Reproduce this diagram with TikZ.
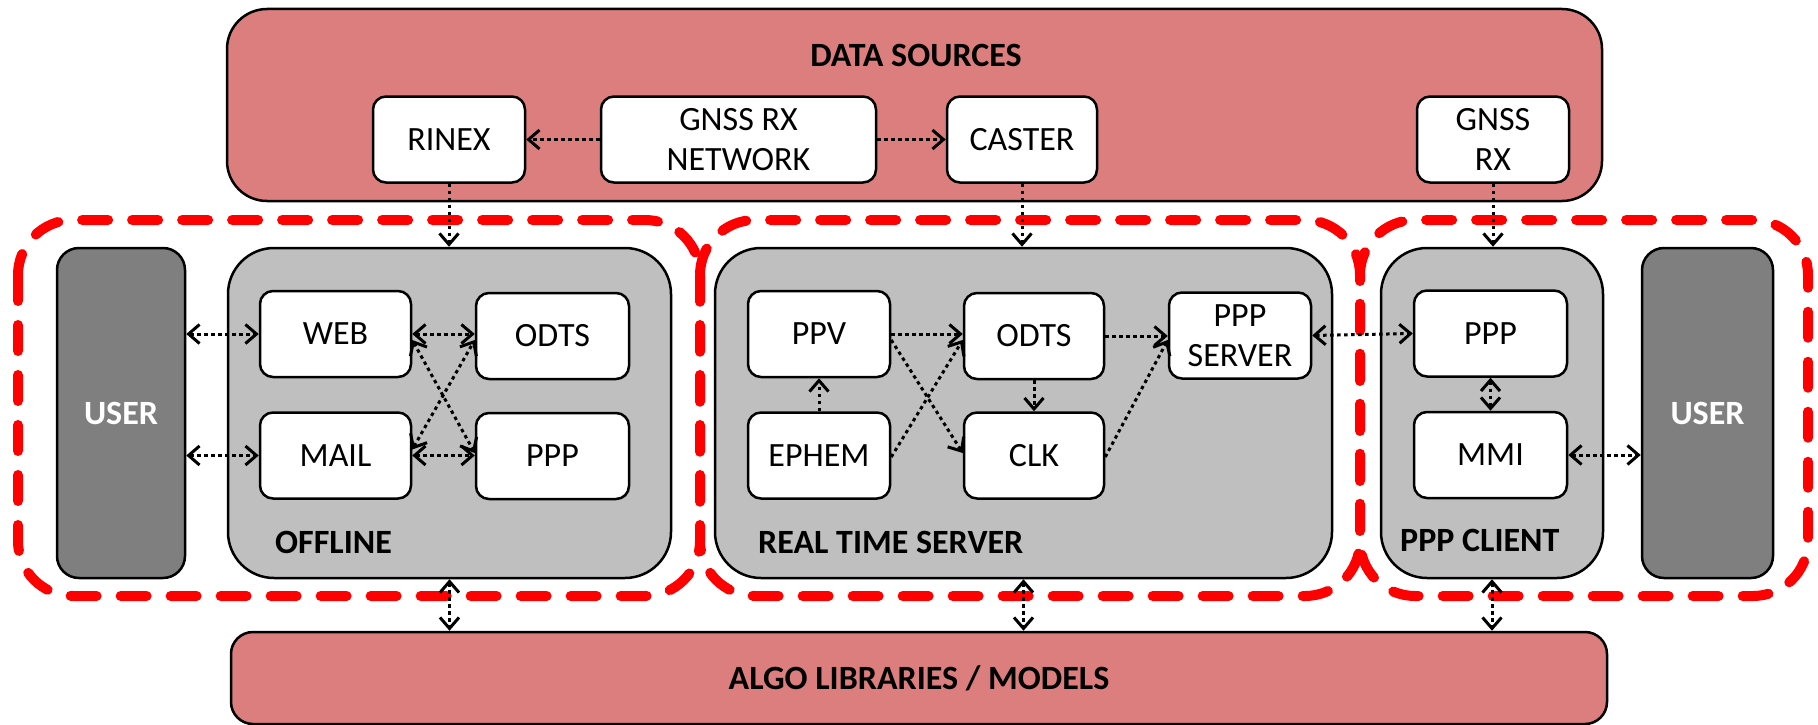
\documentclass[tikz,border=0pt]{standalone}
\usepackage{fontspec}
\setmainfont{Carlito}
\usetikzlibrary{arrows.meta}
\definecolor{srcred}{RGB}{220,126,126}
\definecolor{boxgray}{RGB}{191,191,191}
\definecolor{usergray}{RGB}{127,127,127}
\begin{document}
\begin{tikzpicture}[x=1pt,y=-1pt,
  every node/.style={font=\fontsize{34}{40}\selectfont, align=center, inner sep=0pt},
  srcbox/.style={draw=black, line width=2.5pt, fill=srcred, rounded corners=40pt},
  algobox/.style={draw=black, line width=2.5pt, fill=srcred, rounded corners=22pt},
  wbox/.style={draw=black, line width=2.5pt, fill=white, rounded corners=13pt, minimum height=86pt},
  gbox/.style={draw=black, line width=2.5pt, fill=boxgray, rounded corners=46pt, minimum height=330pt},
  ubox/.style={draw=black, line width=2.5pt, fill=usergray, rounded corners=22pt, minimum height=330pt, text=white, font=\fontsize{34}{40}\selectfont\bfseries},
  region/.style={draw=red, line width=10pt, dash pattern=on 26pt off 24pt, line cap=round, rounded corners=55pt},
  title/.style={font=\fontsize{34}{40}\selectfont\bfseries},
  lnk/.style={line width=3pt, dash pattern=on 3.5pt off 3.5pt, -{Straight Barb[length=11pt,width=19pt]}},
  blnk/.style={lnk, {Straight Barb[length=11pt,width=19pt]}-{Straight Barb[length=11pt,width=19pt]}}
]
\useasboundingbox (0,0) rectangle (1818,725);

% red dashed regions
\draw[region] (18,220) rectangle (700,596);
\draw[region] (700,220) rectangle (1360,596);
\draw[region, dash phase=20pt] (1360,220) rectangle (1808,596);

% data sources
\node[srcbox, minimum width=1375pt, minimum height=192pt] (DS) at (914.5,105) {};
\node[title] (DST) at (916,55) {DATA SOURCES};
\node[wbox, minimum width=152pt] (RINEX) at (449,139.5) {RINEX};
\node[wbox, minimum width=275pt] (NET) at (738.5,139.5) {GNSS RX\\NETWORK};
\node[wbox, minimum width=150pt] (CASTER) at (1022,139.5) {CASTER};
\node[wbox, minimum width=152pt] (GRX) at (1493,139.5) {GNSS\\RX};

% algo
\node[algobox, minimum width=1376pt, minimum height=92pt] (ALGO) at (919,678) {\bfseries ALGO LIBRARIES / MODELS};

% offline
\node[ubox, minimum width=128pt] (USER1) at (121,413) {USER};
\node[gbox, minimum width=443pt] (OFF) at (449.5,413) {};
\node[title, anchor=west] (OFFT) at (275,542) {OFFLINE};
\node[wbox, minimum width=151pt] (WEB) at (335.5,334) {WEB};
\node[wbox, minimum width=153pt] (ODTS1) at (552.5,336) {ODTS};
\node[wbox, minimum width=151pt] (MAIL) at (335.5,455.5) {MAIL};
\node[wbox, minimum width=153pt] (PPP1) at (552.5,456) {PPP};

% real time server
\node[gbox, minimum width=617pt] (RT) at (1023.5,413) {};
\node[title, anchor=west] (RTT) at (758,542) {REAL TIME SERVER};
\node[wbox, minimum width=142pt] (PPV) at (819,334) {PPV};
\node[wbox, minimum width=140pt] (ODTS2) at (1034,336) {ODTS};
\node[wbox, minimum width=142pt] (PPPS) at (1240,335.5) {PPP\\SERVER};
\node[wbox, minimum width=142pt] (EPHEM) at (819,455.5) {EPHEM};
\node[wbox, minimum width=140pt] (CLK) at (1034,455.5) {CLK};

% client
\node[gbox, minimum width=222pt] (CLI) at (1492,413) {};
\node[title, anchor=west] (CLIT) at (1400,540) {PPP CLIENT};
\node[wbox, minimum width=153pt] (PPP2) at (1490.5,333.5) {PPP};
\node[wbox, minimum width=153pt] (MMI) at (1490.5,455) {MMI};
\node[ubox, minimum width=131pt] (USER2) at (1707.5,413) {USER};

% connectors: data sources
\draw[lnk] (NET.west) -- (RINEX.east);
\draw[lnk] (NET.east) -- (CASTER.west);
\draw[lnk] (RINEX.south) -- (RINEX.south |- OFF.north);
\draw[lnk] (CASTER.south) -- (CASTER.south |- RT.north);
\draw[lnk] (GRX.south) -- (GRX.south |- CLI.north);

% connectors: algo
\draw[blnk] (OFF.south) -- (OFF.south |- ALGO.north);
\draw[blnk] (RT.south) -- (RT.south |- ALGO.north);
\draw[blnk] (CLI.south) -- (CLI.south |- ALGO.north);

% connectors: offline
\draw[blnk] (USER1.east |- WEB.west) -- (WEB.west);
\draw[blnk] (USER1.east |- MAIL.west) -- (MAIL.west);
\draw[blnk] (WEB.east) -- (WEB.east -| ODTS1.west);
\draw[blnk] (MAIL.east) -- (MAIL.east -| PPP1.west);
\draw[blnk] ([yshift=-6pt]WEB.east) -- ([yshift=3pt]PPP1.west);
\draw[blnk] ([yshift=6pt]MAIL.east) -- ([yshift=-4pt]ODTS1.west);

% connectors: real time server
\draw[lnk] (PPV.east) -- (PPV.east -| ODTS2.west);
\draw[lnk] (ODTS2.east) -- (ODTS2.east -| PPPS.west);
\draw[lnk] (EPHEM.north) -- (PPV.south);
\draw[lnk] (ODTS2.south) -- (CLK.north);
\draw[lnk] ([yshift=-6pt]PPV.east) -- ([yshift=2.5pt]CLK.west);
\draw[lnk] ([yshift=-1.5pt]EPHEM.east) -- ([yshift=-4pt]ODTS2.west);
\draw[lnk] ([yshift=-1.5pt]CLK.east) -- ([yshift=-4.5pt]PPPS.west);

% connectors: client
\draw[blnk] (PPPS.east) -- (PPP2.west);
\draw[blnk] (PPP2.south) -- (MMI.north);
\draw[blnk] (MMI.east) -- (MMI.east -| USER2.west);
\end{tikzpicture}
\end{document}
